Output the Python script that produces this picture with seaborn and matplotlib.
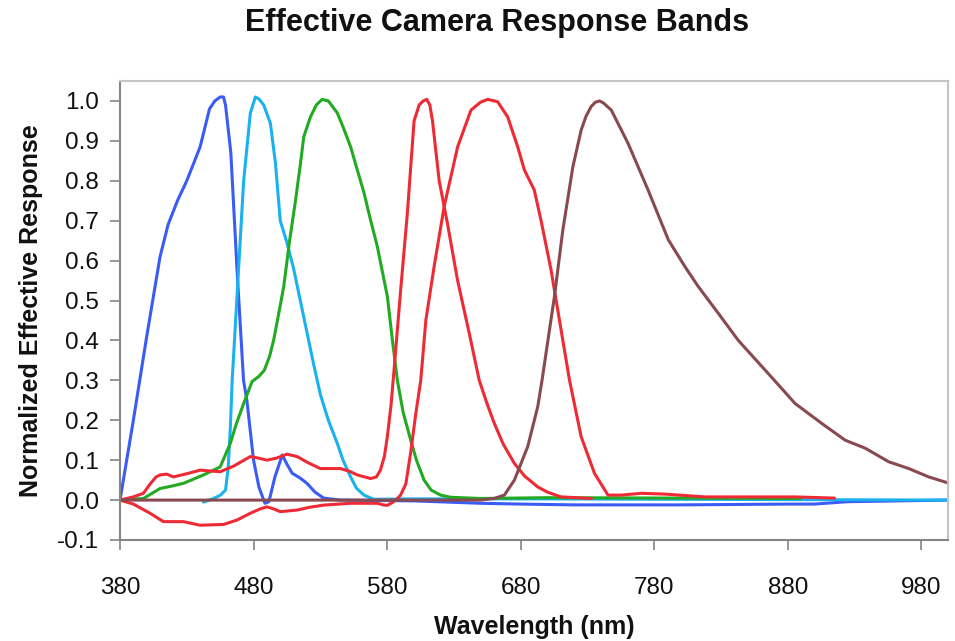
import matplotlib
matplotlib.use("Agg")
import matplotlib.pyplot as plt
import seaborn as sns
import pandas as pd

# ---------------- data ----------------
x_blue = [380, 390, 400, 405, 410, 416, 423, 430, 440, 447, 451, 455, 457.5, 459, 461, 463,
          467.5, 472.5, 475, 480, 484, 488.5, 491.5, 496, 501.5, 505, 509, 515, 520, 526, 532.5,
          545, 600, 650, 680, 720, 800, 880, 900, 925, 1000]
y_blue = [0.0, 0.2, 0.41, 0.51, 0.61, 0.69, 0.75, 0.80, 0.885, 0.98, 1.0, 1.01, 1.01, 0.99, 0.93, 0.87,
          0.585, 0.30, 0.25, 0.10, 0.033, -0.008, -0.004, 0.058, 0.113, 0.09, 0.067, 0.055, 0.042, 0.02, 0.005,
          0.0, -0.002, -0.008, -0.01, -0.012, -0.012, -0.01, -0.01, -0.004, 0.0]

x_cyan = [442.5, 450, 455, 459, 461, 462.6, 464, 467.6, 472.6, 477.6, 481.4, 484, 487.6, 492.6, 496.4,
          500, 505, 510, 515, 520, 525, 530, 536, 542.7, 547, 552.7, 557, 562.7, 570, 600, 700, 800, 1000]
y_cyan = [-0.005, 0.004, 0.012, 0.025, 0.08, 0.18, 0.30, 0.51, 0.80, 0.97, 1.01, 1.005, 0.99, 0.944, 0.844,
          0.70, 0.645, 0.58, 0.50, 0.42, 0.34, 0.265, 0.20, 0.142, 0.10, 0.058, 0.03, 0.0125, 0.002, 0.003,
          0.003, 0.002, 0.0]

x_green = [380, 397.5, 410, 420, 427.5, 442.5, 455, 462.6, 467, 472.6, 478.9, 484, 488, 492, 495, 499,
           502.6, 507, 511.4, 515, 517.6, 522.6, 527, 531.4, 536, 542.7, 547, 552.7, 557, 562.7, 567,
           572.7, 576, 580.2, 584, 587.7, 592, 597.7, 602, 607.7, 613, 620, 627.7, 650, 700, 800, 890]
y_green = [0.0, 0.004, 0.029, 0.036, 0.042, 0.063, 0.083, 0.142, 0.19, 0.242, 0.297, 0.31, 0.325, 0.36,
           0.40, 0.47, 0.535, 0.65, 0.75, 0.84, 0.91, 0.96, 0.99, 1.004, 1.0, 0.97, 0.935, 0.885, 0.835,
           0.77, 0.71, 0.635, 0.58, 0.51, 0.40, 0.30, 0.22, 0.15, 0.10, 0.05, 0.025, 0.0125, 0.007, 0.004,
           0.006, 0.005, 0.004]

x_red1 = [380, 390, 397.5, 402.5, 407, 410, 415, 420, 430, 440, 455, 465, 477.6, 484, 490, 497, 505,
          512.7, 520, 530, 545, 552, 557.7, 567.7, 572, 575, 578, 580.2, 583, 585.2, 590, 595.2, 600.2,
          604, 607, 609.7, 612, 614, 619, 625.2, 632.8, 641.5, 649, 655, 660.3, 667, 675.3, 683, 692.8,
          700, 710.3, 733]
y_red1 = [0.0, 0.008, 0.017, 0.04, 0.058, 0.063, 0.065, 0.058, 0.066, 0.075, 0.071, 0.085, 0.109, 0.105,
          0.10, 0.105, 0.115, 0.109, 0.095, 0.079, 0.079, 0.072, 0.063, 0.054, 0.058, 0.075, 0.11, 0.159,
          0.24, 0.326, 0.52, 0.72, 0.95, 0.99, 1.0, 1.004, 0.99, 0.95, 0.80, 0.693, 0.55, 0.418, 0.30,
          0.24, 0.192, 0.14, 0.092, 0.06, 0.033, 0.02, 0.008, 0.004]

x_red2 = [380, 390, 402.5, 412.5, 427.5, 440, 457.6, 467.6, 477.6, 485, 490, 495, 500, 512.7, 522,
          532.7, 552.7, 572.7, 577.7, 580.2, 583, 586.5, 590, 594, 597.7, 601.5, 605.2, 609, 615.2,
          622.7, 632.8, 642.8, 650, 655.3, 662.8, 670.3, 677.8, 682.8, 690.2, 695.3, 702.8, 710.3,
          716.6, 725.3, 735.3, 745.4, 755.4, 770.4, 788, 818, 885, 915]
y_red2 = [0.0, -0.01, -0.033, -0.054, -0.054, -0.063, -0.061, -0.05, -0.033, -0.022, -0.017, -0.022,
          -0.029, -0.025, -0.018, -0.0125, -0.008, -0.008, -0.0125, -0.013, -0.008, 0.0, 0.012, 0.04,
          0.12, 0.217, 0.30, 0.45, 0.585, 0.735, 0.885, 0.977, 0.997, 1.004, 0.998, 0.96, 0.885, 0.827,
          0.777, 0.70, 0.576, 0.426, 0.30, 0.159, 0.067, 0.0125, 0.0125, 0.017, 0.015, 0.008, 0.008, 0.005]

x_brown = [380, 500, 600, 650, 660, 667.8, 675.3, 685.3, 692.8, 696, 705.3, 711.6, 719.1, 725.3, 729,
           732.8, 736, 739.1, 742, 747.9, 760.4, 775.4, 790.6, 803, 813, 828, 843, 870, 885.5, 905.5,
           923, 938, 955.6, 970.6, 985.6, 1000]
y_brown = [0.0, 0.0, 0.0, 0.0, 0.004, 0.0125, 0.05, 0.134, 0.234, 0.30, 0.51, 0.677, 0.835, 0.927, 0.962,
           0.986, 0.997, 1.0, 0.995, 0.977, 0.894, 0.777, 0.652, 0.585, 0.535, 0.468, 0.40, 0.30, 0.242,
           0.192, 0.15, 0.13, 0.096, 0.079, 0.058, 0.043]

band_names = ["Blue", "Cyan", "Green", "Red A", "Red B", "NIR"]
band_colors = ["#3a5cf5", "#1ab2ee", "#22aa22", "#ee2a35", "#ee2a35", "#884a4f"]

x_ticks = [380, 480, 580, 680, 780, 880, 980]
y_ticks = [-0.1, 0.0, 0.1, 0.2, 0.3, 0.4, 0.5, 0.6, 0.7, 0.8, 0.9, 1.0]

title_text = "Effective Camera Response Bands"
x_label = "Wavelength (nm)"
y_label = "Normalized Effective Response"

# ---------------- build table ----------------
series = [(x_blue, y_blue), (x_cyan, y_cyan), (x_green, y_green),
          (x_red1, y_red1), (x_red2, y_red2), (x_brown, y_brown)]
frames = []
for name, (xs, ys) in zip(band_names, series):
    frames.append(pd.DataFrame({"wl": xs, "resp": ys, "band": name}))
df = pd.concat(frames, ignore_index=True)

# ---------------- style ----------------
sns.set_theme(style="white")
plt.rcParams["font.family"] = ["Liberation Sans", "DejaVu Sans"]
plt.rcParams["axes.unicode_minus"] = False
plt.rcParams["lines.solid_joinstyle"] = "round"
plt.rcParams["lines.solid_capstyle"] = "round"

fig = plt.figure(figsize=(9.55, 6.41), dpi=100)
ax = fig.add_axes([120 / 955, 1 - 540 / 641, (948 - 120) / 955, (540 - 81) / 641])

sns.lineplot(data=df, x="wl", y="resp", hue="band", hue_order=band_names,
             palette=dict(zip(band_names, band_colors)), estimator=None, sort=False,
             legend=False, linewidth=2.2, ax=ax)

ax.set_xlim(380, 1000)
ax.set_ylim(-0.1, 1.05)
ax.set_xticks(x_ticks)
ax.set_yticks(y_ticks)
ax.set_yticklabels([f"{v:.1f}" for v in y_ticks])

for side in ["left", "bottom"]:
    ax.spines[side].set_color("#858585")
    ax.spines[side].set_linewidth(1.5)
for side in ["top", "right"]:
    ax.spines[side].set_color("#c4c4c4")
    ax.spines[side].set_linewidth(1.5)

ax.tick_params(axis="both", which="major", direction="out", length=7, width=1.2,
               color="#858585", labelsize=17.5, labelcolor="#111111")
ax.tick_params(axis="x", pad=20, bottom=True)
ax.tick_params(axis="y", pad=8, left=True)

ax.set_xlabel(x_label, fontsize=18, fontweight="bold", labelpad=11, color="#111111")
ax.set_ylabel(y_label, fontsize=18, fontweight="bold", labelpad=10, color="#111111")

fig.text(0.521, 1 - 23 / 641, title_text, ha="center", va="center",
         fontsize=22, fontweight="bold", color="#111111")

fig.savefig("out.png", dpi=100, facecolor="white")
